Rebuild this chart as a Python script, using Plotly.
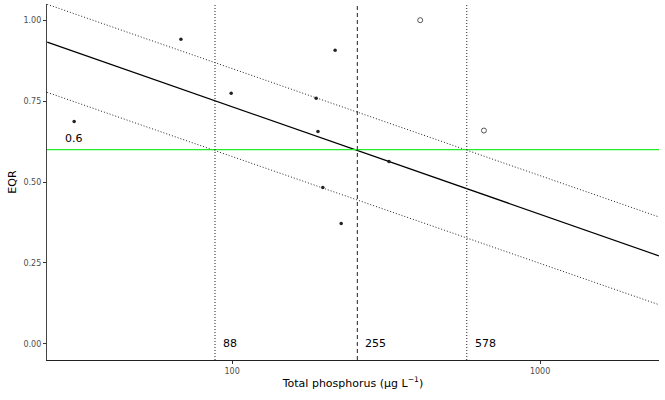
import math
import plotly.graph_objects as go

# Data
tp_filled = [30.7, 68.2, 99.3, 187.5, 190, 216, 197, 226, 323]
eqr_filled = [0.687, 0.941, 0.774, 0.759, 0.656, 0.907, 0.483, 0.372, 0.563]
tp_open = [408, 657]
eqr_open = [1.0, 0.659]

line_x = [25.1, 2430]
fit_y = [0.932, 0.272]
upper_y = [1.049, 0.392]
lower_y = [0.777, 0.121]

thresholds = [88, 255, 578]
threshold_labels = ["88", "255", "578"]
threshold_dash = ["1px,2px", "4px,3px", "1px,2px"]
eqr_boundary = 0.6

x_tickvals = [100, 1000]
x_ticktext = ["100", "1000"]
y_tickvals = [0, 0.25, 0.5, 0.75, 1.0]

FONT = "DejaVu Sans"

fig = go.Figure()

fig.add_trace(go.Scatter(x=line_x, y=upper_y, mode="lines",
                         line=dict(color="#222", width=1, dash="1px,2px"), hoverinfo="skip"))
fig.add_trace(go.Scatter(x=line_x, y=lower_y, mode="lines",
                         line=dict(color="#222", width=1, dash="1px,2px"), hoverinfo="skip"))
fig.add_trace(go.Scatter(x=line_x, y=fit_y, mode="lines",
                         line=dict(color="black", width=1.3), hoverinfo="skip"))

fig.add_hline(y=eqr_boundary, line=dict(color="#22ee22", width=1.3), layer="above")

for t, d in zip(thresholds, threshold_dash):
    fig.add_shape(type="line", xref="x", yref="paper", x0=t, x1=t, y0=0, y1=1,
                  line=dict(color="#222", width=1, dash=d), layer="above")

for t, lab in zip(thresholds, threshold_labels):
    fig.add_annotation(x=math.log10(t), y=0, xref="x", yref="y", text=lab, showarrow=False,
                       xanchor="left", xshift=6, yanchor="middle",
                       font=dict(family=FONT, size=11, color="black"))

fig.add_annotation(x=math.log10(tp_filled[0]), y=eqr_boundary, xref="x", yref="y", text="0.6",
                   showarrow=False, xanchor="center", yanchor="bottom", yshift=3,
                   font=dict(family=FONT, size=11, color="black"))

fig.add_trace(go.Scatter(x=tp_filled, y=eqr_filled, mode="markers",
                         marker=dict(color="#222", size=3.5, symbol="circle")))
fig.add_trace(go.Scatter(x=tp_open, y=eqr_open, mode="markers",
                         marker=dict(color="#555", size=5, symbol="circle-open",
                                     line=dict(width=1))))

fig.update_layout(
    width=665, height=400,
    margin=dict(l=47, r=6, t=4, b=40),
    paper_bgcolor="white", plot_bgcolor="white",
    showlegend=False,
    font=dict(family=FONT, size=11, color="black"),
)
fig.update_xaxes(
    type="log", range=[1.399, 3.386], automargin=False,
    tickvals=x_tickvals, ticktext=x_ticktext,
    showgrid=False, zeroline=False,
    showline=True, linecolor="#222", linewidth=1.2,
    ticks="outside", ticklen=3, tickcolor="#333",
    tickfont=dict(family=FONT, size=8, color="#4d4d4d"),
    title=dict(text="Total phosphorus (μg L<sup>−1</sup>)", standoff=4,
               font=dict(family=FONT, size=11, color="black")),
)
fig.update_yaxes(
    range=[-0.05, 1.05], tickvals=y_tickvals, tickformat=".2f", automargin=False,
    showgrid=False, zeroline=False,
    showline=True, linecolor="#444", linewidth=1.2,
    ticks="outside", ticklen=3, tickcolor="#333",
    tickfont=dict(family=FONT, size=8, color="#4d4d4d"),
    title=dict(text="EQR", standoff=4,
               font=dict(family=FONT, size=11, color="black")),
)

fig.write_html("out.html", config={"displayModeBar": False},
               post_script="document.body.style.margin='0';document.body.style.padding='0';")
